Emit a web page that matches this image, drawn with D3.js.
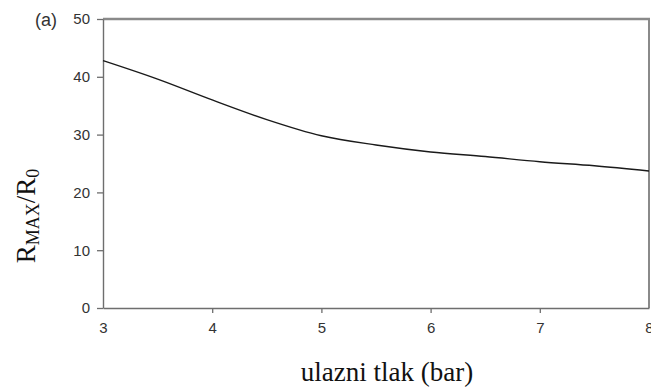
<!DOCTYPE html>
<html>
<head>
<meta charset="utf-8">
<script src="https://cdn.jsdelivr.net/npm/d3@7/dist/d3.min.js"></script>
<style>
  html, body { margin: 0; padding: 0; background: #fff; }
  svg { display: block; }
</style>
</head>
<body>
<svg id="chart" width="651" height="388"></svg>
<script>
// Inlet pressure (bar) and the resulting R_MAX/R_0 ratio
const pressure = [3, 3.5, 4, 4.5, 5, 5.5, 6, 6.5, 7, 7.5, 8];
const ratio = [42.8, 39.6, 36.0, 32.6, 29.8, 28.2, 27.0, 26.2, 25.3, 24.6, 23.7];
const xTicks = [3, 4, 5, 6, 7, 8];
const yTicks = [0, 10, 20, 30, 40, 50];

const svg = d3.select("#chart");
const plotLeft = 103, plotRight = 649, plotTop = 19, plotBottom = 308;

const x = d3.scaleLinear().domain([3, 8]).range([plotLeft, plotRight]);
const y = d3.scaleLinear().domain([0, 50]).range([plotBottom, plotTop]);

// frame: heavier grey top and right edges
svg.append("line").attr("x1", plotLeft).attr("x2", plotRight + 1).attr("y1", plotTop).attr("y2", plotTop)
  .attr("stroke", "#8a8a8a").attr("stroke-width", 2.5);
svg.append("line").attr("x1", plotRight).attr("x2", plotRight).attr("y1", plotTop).attr("y2", plotBottom)
  .attr("stroke", "#8a8a8a").attr("stroke-width", 2);

const fmt = d3.format("d");
// y axis
const yAxis = svg.append("g").attr("transform", `translate(${plotLeft},0)`)
  .call(d3.axisLeft(y).tickValues(yTicks).tickFormat(fmt).tickSize(6).tickPadding(7).tickSizeOuter(0));
// x axis
const xAxis = svg.append("g").attr("transform", `translate(0,${plotBottom})`)
  .call(d3.axisBottom(x).tickValues(xTicks).tickFormat(fmt).tickSize(5).tickPadding(9).tickSizeOuter(0));

[yAxis, xAxis].forEach(g => {
  g.select(".domain").attr("stroke", "#6e6e6e").attr("stroke-width", 1.4);
  g.selectAll(".tick line").attr("stroke", "#6e6e6e").attr("stroke-width", 1.3);
  g.selectAll(".tick text").attr("fill", "#333")
    .style("font-family", "Liberation Sans, Arial, sans-serif").style("font-size", "15px");
});
// x axis: no tick marks at the two frame ends
xAxis.selectAll(".tick line").filter(d => d === 3 || d === 8).remove();

// curve
const line = d3.line().x((d, i) => x(pressure[i])).y(d => y(d)).curve(d3.curveMonotoneX);
svg.append("path").datum(ratio).attr("d", line)
  .attr("fill", "none").attr("stroke", "#1a1a1a").attr("stroke-width", 1.4);

// panel label
svg.append("text").attr("x", 35).attr("y", 26).text("(a)")
  .attr("fill", "#333").style("font-family", "Liberation Sans, Arial, sans-serif").style("font-size", "18px");

// axis titles
svg.append("text").attr("x", 387).attr("y", 381).attr("text-anchor", "middle")
  .style("font-family", "Liberation Serif, Times New Roman, serif").style("font-size", "27px")
  .attr("fill", "#111").text("ulazni tlak (bar)");

const yt = svg.append("text")
  .attr("transform", "translate(35,216) rotate(-90)")
  .attr("text-anchor", "middle")
  .style("font-family", "Liberation Serif, Times New Roman, serif").style("font-size", "27px")
  .attr("fill", "#111");
yt.append("tspan").text("R");
yt.append("tspan").attr("dy", 4).style("font-size", "18px").text("MAX");
yt.append("tspan").attr("dy", -4).text("/R");
yt.append("tspan").attr("dy", 4).style("font-size", "18px").text("0");
</script>
</body>
</html>
